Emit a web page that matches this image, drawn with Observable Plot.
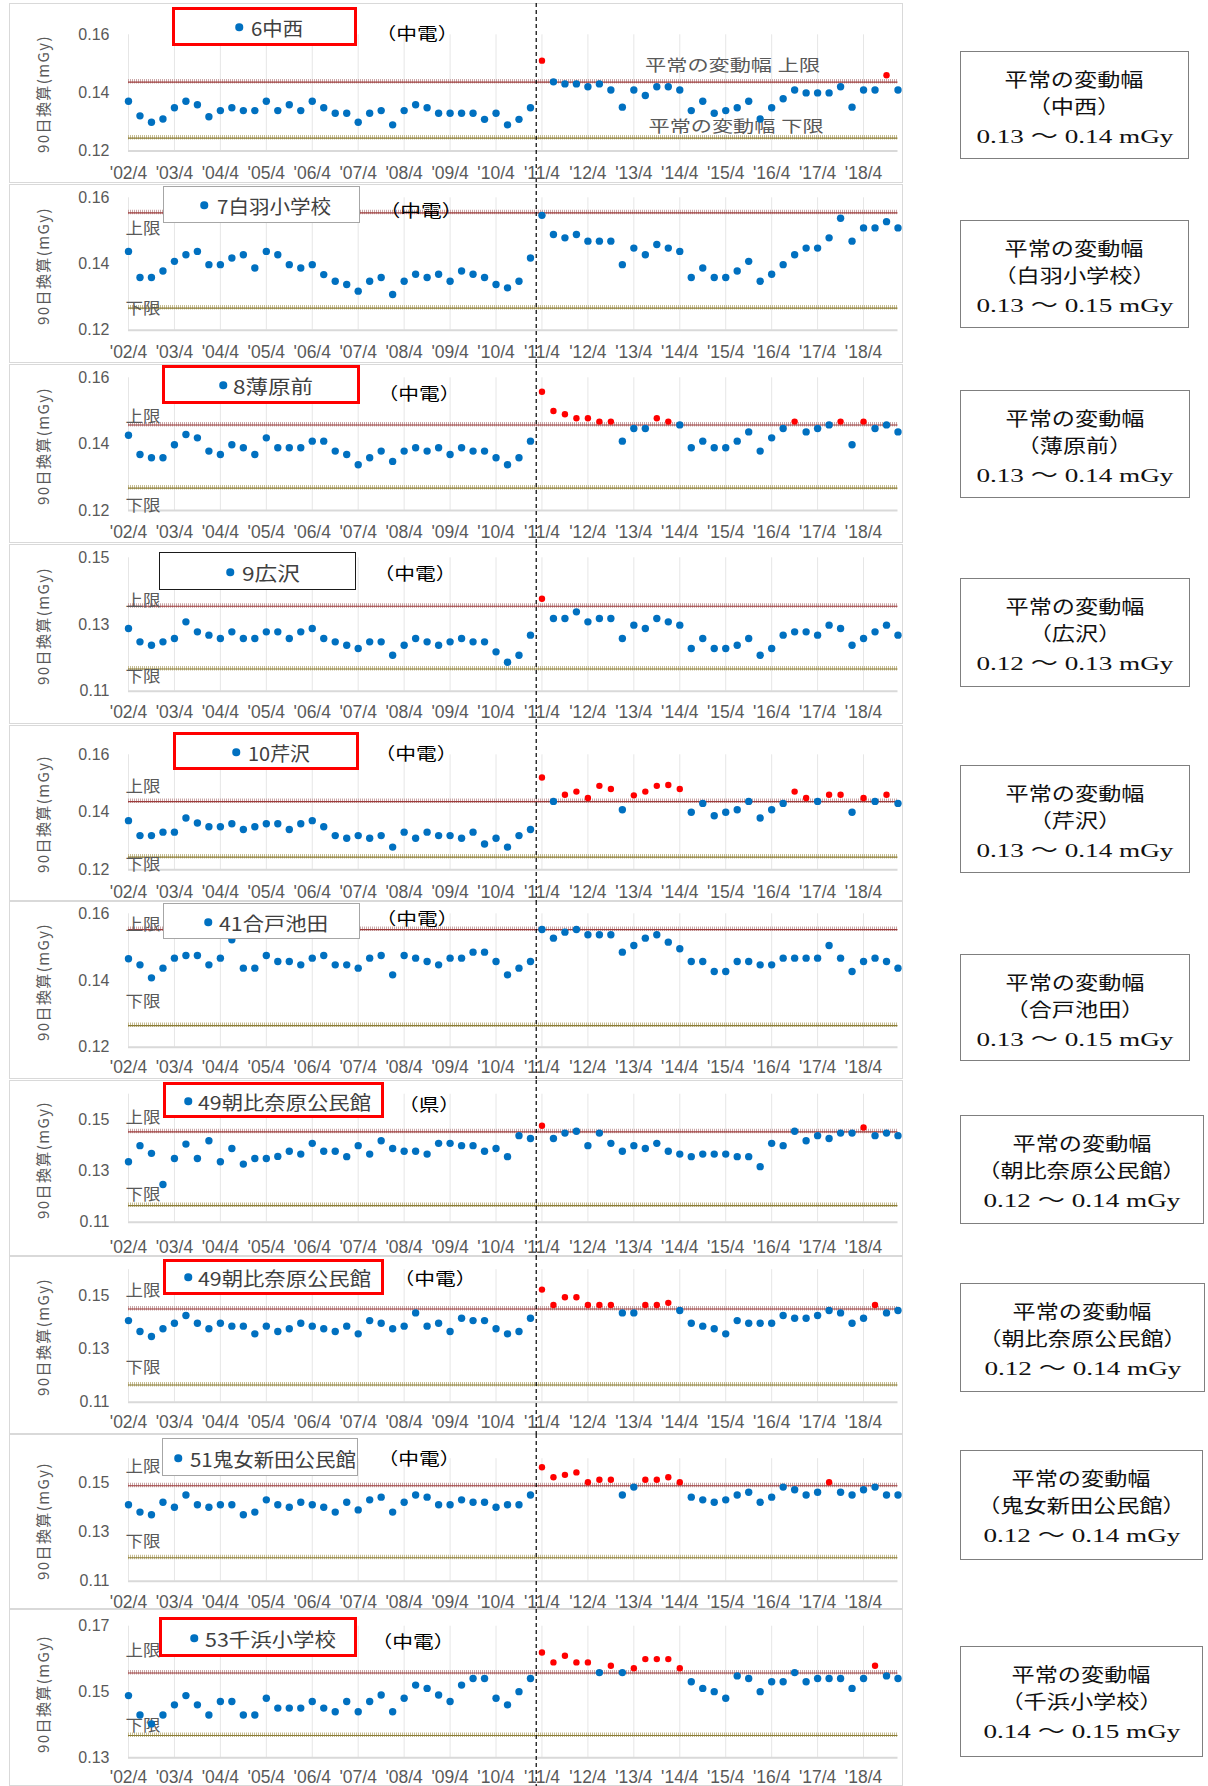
<!DOCTYPE html>
<html lang="ja">
<head>
<meta charset="utf-8">
<title>90日換算</title>
<script src="https://cdn.jsdelivr.net/npm/d3@7"></script>
<script src="https://cdn.jsdelivr.net/npm/@observablehq/plot@0.6"></script>
<style>
html,body{margin:0;padding:0;background:#fff;}
#root{position:relative;width:1208px;height:1786px;overflow:hidden;background:#fff;font-family:"Noto Sans CJK JP","Liberation Sans",sans-serif;}
.frame{position:absolute;left:9px;width:894px;border:1px solid #d9d9d9;box-sizing:border-box;}
.leg{position:absolute;background:#fff;box-sizing:border-box;}
.legdot{position:absolute;width:7.5px;height:7.5px;border-radius:50%;background:#0070c0;transform:translate(-50%,-50%);}
.legtxt{position:absolute;white-space:nowrap;font-size:19px;line-height:1;color:#404040;transform-origin:0 50%;}
.op{position:absolute;white-space:nowrap;font-size:17px;line-height:1;color:#000;}
.ytitle{position:absolute;white-space:nowrap;font-size:15px;line-height:1;color:#595959;font-family:"Noto Sans CJK JP","Liberation Sans",sans-serif;}
.rbox{position:absolute;border:1px solid #7f7f7f;box-sizing:border-box;background:#fff;}
.rline{position:absolute;left:0;right:0;height:19px;text-align:center;line-height:1;font-family:"Liberation Serif","Noto Sans CJK JP",serif;font-size:19px;color:#111;}
.rline span{display:inline-block;white-space:nowrap;transform-origin:50% 50%;}
svg.chart{position:absolute;}
</style>
</head>
<body>
<div id="root"></div>
<script>
// ---------------- DATA ----------------
const quarters = [
 "'02/4","'02/7","'02/10","'03/1","'03/4","'03/7","'03/10","'04/1",
 "'04/4","'04/7","'04/10","'05/1","'05/4","'05/7","'05/10","'06/1",
 "'06/4","'06/7","'06/10","'07/1","'07/4","'07/7","'07/10","'08/1",
 "'08/4","'08/7","'08/10","'09/1","'09/4","'09/7","'09/10","'10/1",
 "'10/4","'10/7","'10/10","'11/1","'11/4","'11/7","'11/10","'12/1",
 "'12/4","'12/7","'12/10","'13/1","'13/4","'13/7","'13/10","'14/1",
 "'14/4","'14/7","'14/10","'15/1","'15/4","'15/7","'15/10","'16/1",
 "'16/4","'16/7","'16/10","'17/1","'17/4","'17/7","'17/10","'18/1",
 "'18/4","'18/7","'18/10","'19/1"];
const yearTickLabels = ["'02/4","'03/4","'04/4","'05/4","'06/4","'07/4","'08/4","'09/4",
 "'10/4","'11/4","'12/4","'13/4","'14/4","'15/4","'16/4","'17/4","'18/4"];
const eventQuarter = 35.5; // between '11/1 and '11/4

const s06 = [0.1371,0.1321,0.1299,0.1310,0.1349,0.1371,0.1359,0.1318,0.1339,0.1349,
 0.1339,0.1339,0.1371,0.1339,0.1359,0.1339,0.1371,0.1349,0.1330,0.1330,
 0.1299,0.1330,0.1339,0.1290,0.1339,0.1359,0.1349,0.1330,0.1330,0.1330,
 0.1330,0.1309,0.1330,0.1290,0.1309,0.1349,0.1511,0.1438,0.1431,0.1431,
 0.1421,0.1431,0.1410,0.1351,0.1410,0.1391,0.1421,0.1421,0.1410,0.1339,
 0.1371,0.1330,0.1339,0.1349,0.1371,0.1310,0.1349,0.1380,0.1410,0.1400,
 0.1400,0.1400,0.1421,0.1351,0.1410,0.1410,0.1461,0.1410];
const s07 = [0.1438,0.1359,0.1359,0.1379,0.1408,0.1428,0.1438,0.1398,0.1398,0.1418,
 0.1428,0.1388,0.1438,0.1428,0.1398,0.1388,0.1398,0.1368,0.1348,0.1338,
 0.1318,0.1348,0.1359,0.1308,0.1348,0.1369,0.1359,0.1369,0.1348,0.1379,
 0.1369,0.1359,0.1338,0.1328,0.1348,0.1418,0.1547,0.1489,0.1479,0.1489,
 0.1469,0.1469,0.1469,0.1398,0.1448,0.1428,0.1459,0.1448,0.1438,0.1359,
 0.1388,0.1359,0.1359,0.1379,0.1408,0.1348,0.1369,0.1398,0.1428,0.1448,
 0.1448,0.1479,0.1538,0.1469,0.1509,0.1509,0.1528,0.1509];
const s08 = [0.1427,0.1369,0.1359,0.1359,0.1398,0.1429,0.1419,0.1379,0.1369,0.1398,
 0.1389,0.1369,0.1419,0.1389,0.1389,0.1389,0.1409,0.1409,0.1379,0.1369,
 0.1338,0.1359,0.1379,0.1348,0.1379,0.1389,0.1379,0.1389,0.1369,0.1389,
 0.1379,0.1379,0.1359,0.1338,0.1359,0.1409,0.1558,0.1500,0.1490,0.1478,
 0.1478,0.1468,0.1468,0.1409,0.1447,0.1447,0.1478,0.1468,0.1458,0.1389,
 0.1409,0.1389,0.1389,0.1409,0.1437,0.1379,0.1419,0.1447,0.1468,0.1437,
 0.1447,0.1458,0.1468,0.1398,0.1468,0.1447,0.1458,0.1437];
const s09 = [0.1288,0.1248,0.1238,0.1248,0.1258,0.1308,0.1278,0.1268,0.1258,0.1278,
 0.1258,0.1258,0.1278,0.1278,0.1258,0.1278,0.1288,0.1258,0.1248,0.1238,
 0.1228,0.1248,0.1248,0.1208,0.1238,0.1258,0.1248,0.1238,0.1248,0.1258,
 0.1248,0.1248,0.1218,0.1187,0.1208,0.1268,0.1377,0.1318,0.1318,0.1338,
 0.1308,0.1318,0.1318,0.1258,0.1298,0.1288,0.1318,0.1308,0.1298,0.1228,
 0.1258,0.1228,0.1228,0.1238,0.1258,0.1208,0.1228,0.1268,0.1278,0.1278,
 0.1268,0.1298,0.1288,0.1238,0.1258,0.1278,0.1298,0.1268];
const s10 = [0.1371,0.1319,0.1319,0.1331,0.1331,0.1380,0.1363,0.1350,0.1350,0.1360,
 0.1340,0.1350,0.1360,0.1360,0.1340,0.1360,0.1371,0.1350,0.1319,0.1310,
 0.1319,0.1310,0.1319,0.1279,0.1331,0.1310,0.1331,0.1319,0.1319,0.1310,
 0.1331,0.1290,0.1310,0.1279,0.1319,0.1340,0.1521,0.1438,0.1461,0.1472,
 0.1450,0.1492,0.1481,0.1409,0.1459,0.1472,0.1492,0.1495,0.1481,0.1400,
 0.1431,0.1388,0.1400,0.1409,0.1438,0.1380,0.1409,0.1431,0.1472,0.1450,
 0.1438,0.1461,0.1461,0.1400,0.1450,0.1438,0.1461,0.1431];
const s41 = [0.1465,0.1447,0.1408,0.1437,0.1467,0.1475,0.1475,0.1447,0.1467,0.1522,
 0.1437,0.1437,0.1475,0.1457,0.1457,0.1447,0.1467,0.1475,0.1447,0.1447,
 0.1437,0.1467,0.1475,0.1417,0.1475,0.1467,0.1457,0.1447,0.1467,0.1467,
 0.1485,0.1485,0.1457,0.1417,0.1437,0.1457,0.1553,0.1527,0.1545,0.1553,
 0.1537,0.1537,0.1537,0.1485,0.1505,0.1527,0.1537,0.1515,0.1495,0.1457,
 0.1457,0.1427,0.1427,0.1457,0.1457,0.1447,0.1447,0.1467,0.1467,0.1467,
 0.1467,0.1505,0.1467,0.1427,0.1457,0.1467,0.1457,0.1437];
const s49pref = [0.1336,0.1399,0.1369,0.1247,0.1349,0.1405,0.1349,0.1418,0.1336,0.1388,
 0.1327,0.1349,0.1349,0.1357,0.1377,0.1366,0.1408,0.1377,0.1377,0.1356,
 0.1399,0.1366,0.1418,0.1388,0.1377,0.1377,0.1366,0.1408,0.1408,0.1399,
 0.1399,0.1377,0.1388,0.1356,0.1438,0.1427,0.1477,0.1427,0.1448,0.1455,
 0.1399,0.1448,0.1408,0.1377,0.1399,0.1388,0.1408,0.1377,0.1366,0.1356,
 0.1366,0.1366,0.1366,0.1356,0.1356,0.1317,0.1408,0.1399,0.1455,0.1418,
 0.1438,0.1427,0.1448,0.1448,0.1470,0.1438,0.1448,0.1438];
const s49chuden = [0.1408,0.1367,0.1348,0.1377,0.1398,0.1427,0.1398,0.1377,0.1398,0.1387,
 0.1387,0.1358,0.1387,0.1367,0.1377,0.1398,0.1387,0.1377,0.1367,0.1387,
 0.1358,0.1408,0.1398,0.1377,0.1387,0.1437,0.1387,0.1398,0.1367,0.1417,
 0.1408,0.1408,0.1377,0.1358,0.1367,0.1417,0.1525,0.1467,0.1496,0.1496,
 0.1467,0.1467,0.1467,0.1437,0.1437,0.1467,0.1467,0.1475,0.1446,0.1398,
 0.1387,0.1377,0.1358,0.1408,0.1398,0.1398,0.1398,0.1427,0.1417,0.1417,
 0.1427,0.1446,0.1437,0.1398,0.1417,0.1467,0.1437,0.1446];
const s51 = [0.1412,0.1382,0.1371,0.1422,0.1402,0.1452,0.1412,0.1402,0.1412,0.1412,
 0.1371,0.1382,0.1432,0.1412,0.1402,0.1422,0.1412,0.1402,0.1382,0.1422,
 0.1391,0.1432,0.1443,0.1382,0.1422,0.1452,0.1443,0.1412,0.1412,0.1432,
 0.1422,0.1422,0.1402,0.1412,0.1412,0.1452,0.1565,0.1524,0.1534,0.1544,
 0.1504,0.1514,0.1514,0.1452,0.1484,0.1514,0.1514,0.1524,0.1504,0.1443,
 0.1432,0.1422,0.1432,0.1452,0.1463,0.1422,0.1443,0.1484,0.1473,0.1452,
 0.1463,0.1504,0.1463,0.1452,0.1473,0.1484,0.1452,0.1452];
const s53 = [0.1489,0.1430,0.1403,0.1430,0.1461,0.1489,0.1461,0.1430,0.1471,0.1471,
 0.1430,0.1430,0.1481,0.1451,0.1451,0.1451,0.1471,0.1451,0.1440,0.1471,
 0.1440,0.1471,0.1491,0.1440,0.1481,0.1521,0.1511,0.1491,0.1471,0.1521,
 0.1541,0.1541,0.1481,0.1461,0.1501,0.1541,0.1620,0.1590,0.1610,0.1590,
 0.1590,0.1559,0.1580,0.1559,0.1572,0.1600,0.1600,0.1600,0.1572,0.1531,
 0.1511,0.1501,0.1481,0.1549,0.1541,0.1501,0.1531,0.1531,0.1559,0.1531,
 0.1541,0.1541,0.1541,0.1511,0.1541,0.1580,0.1549,0.1541];

const series = [s06, s07, s08, s09, s10, s41, s49pref, s49chuden, s51, s53];
const stationNames = ["6中西","7白羽小学校","8薄原前","9広沢","10芹沢","41合戸池田",
 "49朝比奈原公民館","49朝比奈原公民館","51鬼女新田公民館","53千浜小学校"];
const operators = ["（中電）","（中電）","（中電）","（中電）","（中電）","（中電）","（県）","（中電）","（中電）","（中電）"];
const rangeNames = ["（中西）","（白羽小学校）","（薄原前）","（広沢）","（芹沢）","（合戸池田）",
 "（朝比奈原公民館）","（朝比奈原公民館）","（鬼女新田公民館）","（千浜小学校）"];
const rangeTexts = ["0.13 ～ 0.14 mGy","0.13 ～ 0.15 mGy","0.13 ～ 0.14 mGy","0.12 ～ 0.13 mGy","0.13 ～ 0.14 mGy",
 "0.13 ～ 0.15 mGy","0.12 ～ 0.14 mGy","0.12 ～ 0.14 mGy","0.12 ～ 0.14 mGy","0.14 ～ 0.15 mGy"];
const upperLimits = [0.1440,0.1557,0.1460,0.1357,0.1440,0.1555,0.1456,0.1455,0.1493,0.1560];
const lowerLimits = [0.1247,0.1269,0.1270,0.1169,0.1247,0.1267,0.1168,0.1168,0.1199,0.1370];
const yDomains = [[0.12,0.16],[0.12,0.16],[0.12,0.16],[0.11,0.15],[0.12,0.16],
 [0.12,0.16],[0.11,0.16],[0.11,0.16],[0.11,0.16],[0.13,0.17]];
const yTicks = [[0.12,0.14,0.16],[0.12,0.14,0.16],[0.12,0.14,0.16],[0.11,0.13,0.15],[0.12,0.14,0.16],
 [0.12,0.14,0.16],[0.11,0.13,0.15],[0.11,0.13,0.15],[0.11,0.13,0.15],[0.13,0.15,0.17]];
const yTitle = "90日換算(mGy)";
const rangeHeading = "平常の変動幅";

// ---------------- LAYOUT (page px) ----------------
const layout = [
 {top:3,   bot:183,  pxHi:34.3,   pxLo:150.5,  tickY:173,   box:[172,7,357,46],     border:"red",   dot:239, tx:[251,302], ly:27,   op:[417,32],     lab:[0.1494,0.1282]},
 {top:184, bot:363,  pxHi:197.3,  pxLo:329.7,  tickY:352.7, box:[163,186,360,223],  border:"gray",  dot:204, tx:[217,330], ly:205,  op:[421,209],    lab:[0.1507,0.1265]},
 {top:364, bot:543,  pxHi:377.3,  pxLo:510,    tickY:532.7, box:[162,365,360,404],  border:"red",   dot:223, tx:[233,312], ly:385,  op:[418.5,392],  lab:[0.1483,0.1213]},
 {top:544, bot:724,  pxHi:557.3,  pxLo:690.7,  tickY:712.7, box:[159,552,356,590],  border:"black", dot:230, tx:[242,299], ly:572,  op:[415,572],    lab:[0.1370,0.1144]},
 {top:725, bot:901,  pxHi:754.3,  pxLo:869.3,  tickY:892.7, box:[173,732,359,770],  border:"red",   dot:236, tx:[248,309], ly:752,  op:[415.5,752],  lab:[0.1487,0.1217]},
 {top:901, bot:1079, pxHi:913.3,  pxLo:1046.7, tickY:1067.7,box:[163,903,360,939],  border:"gray",  dot:208, tx:[219,327], ly:922,  op:[417,917],    lab:[0.1567,0.1335]},
 {top:1080,bot:1256, pxHi:1093.7, pxLo:1221.7, tickY:1247.7,box:[163,1082,384,1118],border:"red",   dot:188, tx:[198,370], ly:1101, op:[428.5,1103], lab:[0.1506,0.1208]},
 {top:1256,bot:1434, pxHi:1269.2, pxLo:1401.7, tickY:1422.7,box:[163,1259,384,1295],border:"red",   dot:188, tx:[198,370], ly:1277, op:[435,1277],   lab:[0.1521,0.1230]},
 {top:1434,bot:1609, pxHi:1458.2, pxLo:1580.7, tickY:1602.7,box:[162,1438,358,1476],border:"gray",  dot:178, tx:[190,355], ly:1458, op:[418.5,1457], lab:[0.1568,0.1259]},
 {top:1609,bot:1786, pxHi:1625.7, pxLo:1757.3, tickY:1777.7,box:[159,1617,357,1657],border:"red",   dot:194, tx:[205,335], ly:1638, op:[412.5,1640], lab:[0.1625,0.1398]}
];
const rightBoxes = [[960,51,229,108],[960,220,229,108],[960,390,230,108],[960,578,230,109],[960,765,230,108],
 [960,954,230,107],[960,1115,244,109],[960,1283,245,109],[960,1450,243,110],[960,1646,243,111]];
const borderStyles = {red:"3px solid #ff0000", gray:"1.5px solid #a6a6a6", black:"1.5px solid #1a1a1a"};
const tickShift = 5;

// ---------------- BUILD ----------------
const root = document.getElementById("root");
function addDiv(cls, css, parent) {
  const d = document.createElement("div");
  if (cls) d.className = cls;
  d.style.cssText = css;
  (parent || root).appendChild(d);
  return d;
}
series.forEach((s, k) => { if (s.length !== quarters.length) throw new Error("series " + k + " length " + s.length); });

const W = 894, LEFT = 9;
const nQ = quarters.length;
const yearIdx = yearTickLabels.map(l => quarters.indexOf(l));

series.forEach((vals, k) => {
  const L = layout[k];
  const H = L.bot - L.top;
  addDiv("frame", `top:${L.top}px;height:${H}px;`);
  const mT = L.pxHi - L.top, mB = L.bot - L.pxLo;
  const up = upperLimits[k], lo = lowerLimits[k];
  const pts = vals.map((v, i) => ({i, q: quarters[i], v}));
  const blue = pts.filter(d => d.v <= up);
  const red = pts.filter(d => d.v > up);
  const [labUp, labLo] = L.lab;
  const labelMarks = k === 0
    ? [Plot.text([{x: 52.6, y: labUp, t: "平常の変動幅 上限"}, {x: 52.9, y: labLo, t: "平常の変動幅 下限"}],
        {x: "x", y: "y", text: "t", fontSize: 16, fill: "#595959"})]
    : [Plot.text([{y: labUp, t: "上限"}, {y: labLo, t: "下限"}],
        {y: "y", text: "t", frameAnchor: "left", textAnchor: "start", dx: -3, fontSize: 16, fill: "#595959"})];

  const svg = Plot.plot({
    width: W, height: H,
    marginLeft: 119, marginRight: 5.5, marginTop: mT, marginBottom: mB,
    x: {type: "linear", domain: [0, nQ - 1], axis: null},
    y: {type: "linear", domain: yDomains[k], axis: null},
    style: {background: "transparent", overflow: "visible", fontFamily: "'Liberation Sans','Noto Sans CJK JP',sans-serif"},
    marks: [
      Plot.ruleX(yearIdx, {x: d => d, stroke: "#e6e6e6", strokeWidth: 1}),
      Plot.ruleY([yDomains[k][0]], {stroke: "#d9d9d9", strokeWidth: 2}),
      Plot.ruleY([up], {stroke: "#c9a7a7", strokeWidth: 4.5, strokeDasharray: "1,1"}),
      Plot.ruleY([up], {stroke: "#9c3a3a", strokeWidth: 1.1, dy: 0.8}),
      Plot.ruleY([lo], {stroke: "#c6bd93", strokeWidth: 4.5, strokeDasharray: "1,1"}),
      Plot.ruleY([lo], {stroke: "#8a7b35", strokeWidth: 1.1, dy: 0.8}),
      ...labelMarks,
      Plot.ruleX([eventQuarter], {stroke: "#000", strokeWidth: 1.2, strokeDasharray: "4,3", insetTop: -mT, insetBottom: -mB}),
      Plot.dot(blue, {x: "i", y: "v", r: 3.7, fill: "#0070c0", stroke: "none"}),
      Plot.dot(red, {x: "i", y: "v", r: 3.2, fill: "#ff0000", stroke: "none"}),
      Plot.axisY(yTicks[k], {tickSize: 0, tickPadding: 19, tickFormat: d3.format(".2f"), fontSize: 16, color: "#595959", label: null}),
      Plot.text(yearTickLabels, {x: d => quarters.indexOf(d), frameAnchor: "bottom", dy: L.tickY - L.pxLo + tickShift, fontSize: 17.5, fill: "#595959"})
    ]
  });
  svg.classList.add("chart");
  svg.style.left = LEFT + "px";
  svg.style.top = L.top + "px";
  svg.style.maxWidth = "none";
  root.appendChild(svg);

  d3.select(svg).selectAll("text").each(function() {
    const t = this.textContent;
    let len = null;
    if (t === "上限" || t === "下限") len = 35;
    else if (t.startsWith("平常の変動幅")) len = 175;
    if (len) { this.setAttribute("textLength", len); this.setAttribute("lengthAdjust", "spacingAndGlyphs"); }
  });

  // y axis title (rotated), centred on the plot area
  const yt = addDiv("ytitle", `left:42px;top:${(L.pxHi + L.pxLo) / 2 + 2}px;`);
  yt.textContent = yTitle;
  const natT = yt.getBoundingClientRect().width;
  const ls = Math.max(0, (118 - natT) / yTitle.length);
  yt.style.letterSpacing = ls + "px";
  yt.style.transform = "translate(-50%,-50%) rotate(-90deg)";

  // legend box
  const [bx0, by0, bx1, by1] = L.box;
  addDiv("leg", `left:${bx0}px;top:${by0}px;width:${bx1 - bx0}px;height:${by1 - by0}px;border:${borderStyles[L.border]};`);
  addDiv("legdot", `left:${L.dot}px;top:${L.ly}px;`);
  const lt = addDiv("legtxt", `left:${L.tx[0]}px;top:${L.ly}px;`);
  lt.textContent = stationNames[k];
  const nat = lt.getBoundingClientRect().width;
  lt.style.transform = `translateY(-50%) scaleX(${(L.tx[1] - L.tx[0] + 1) / nat})`;
  const op = addDiv("op", `left:${L.op[0]}px;top:${L.op[1]}px;transform:translate(-50%,-50%) scaleX(1.22);`);
  op.textContent = operators[k];
});

// right boxes
rightBoxes.forEach((b, k) => {
  const box = addDiv("rbox", `left:${b[0]}px;top:${b[1]}px;width:${b[2]}px;height:${b[3]}px;`);
  const lines = [rangeHeading, rangeNames[k], rangeTexts[k]];
  const offs = [29.5, 56.5, 85.5];
  const spans = lines.map((t, j) => {
    const ln = addDiv("rline", `top:${offs[j] - 9.5 - 1}px;`, box);
    const sp = document.createElement("span");
    sp.textContent = t;
    ln.appendChild(sp);
    return sp;
  });
  const s1 = 139 / spans[0].getBoundingClientRect().width;
  const s3 = 197 / spans[2].getBoundingClientRect().width;
  spans[0].style.transform = `scaleX(${s1})`;
  spans[1].style.transform = `scaleX(${s1})`;
  spans[2].style.transform = `scaleX(${s3})`;
});
</script>
</body>
</html>
